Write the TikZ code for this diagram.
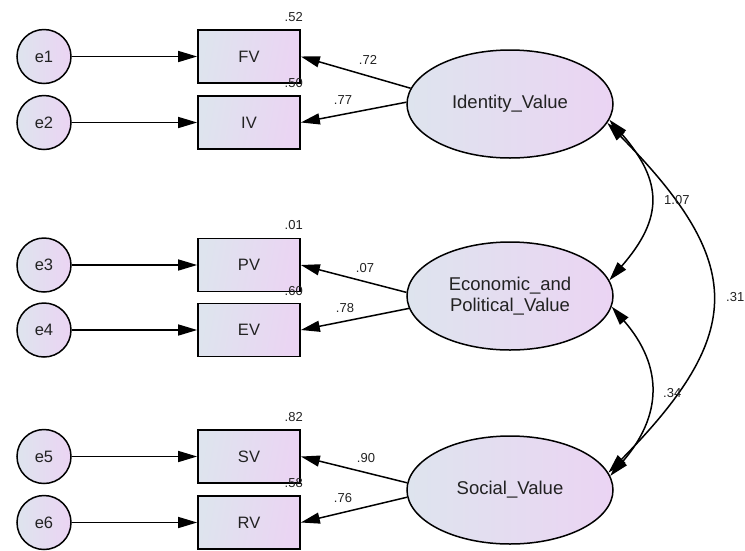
\documentclass[tikz,border=0pt]{standalone}
\usepackage{fontspec}
\setmainfont{Liberation Sans}
\usetikzlibrary{arrows.meta,shapes.geometric}
\definecolor{fillL}{RGB}{222,228,238}
\definecolor{fillR}{RGB}{235,212,243}
\definecolor{ink}{RGB}{34,34,34}
\begin{document}
\begin{tikzpicture}[x=1pt,y=-1pt,
  every node/.style={text=ink},
  obs/.style={draw=black,line width=1.7pt,rectangle,minimum width=102pt,minimum height=53pt,
    left color=fillL,right color=fillR,shading angle=80,font=\fontsize{16.5}{18}\selectfont},
  err/.style={draw=black,line width=1.5pt,circle,minimum size=54pt,inner sep=0pt,
    left color=fillL,right color=fillR,font=\fontsize{16.5}{18}\selectfont},
  lat/.style={draw=black,line width=1.5pt,ellipse,minimum width=206pt,minimum height=108pt,
    left color=fillL,right color=fillR,font=\fontsize{18.5}{21.5}\selectfont,align=center},
  coef/.style={font=\fontsize{13}{15}\selectfont,inner sep=1pt},
  arr/.style={line width=1.5pt,-{Triangle[length=19pt,width=11pt]}},
  cov/.style={line width=1.5pt,{Triangle[length=19pt,width=11pt]}-{Triangle[length=19pt,width=11pt]}}]
\useasboundingbox (0,0) rectangle (745,550);

% latent variables
\node[lat] (Iden) at (510,104) {Identity\_Value};
\node[lat] (Econ) at (510,296) {Economic\_and\\Political\_Value};
\node[lat] (Soc)  at (510,490) {Social\_Value};

% observed indicators
\node[obs] (FV) at (249,56.5)  {FV};
\node[obs] (IV) at (249,122.5) {IV};
\node[obs] (PV) at (249,265)   {PV};
\node[obs] (EV) at (249,330)   {EV};
\node[obs] (SV) at (249,456.5) {SV};
\node[obs] (RV) at (249,522.5) {RV};

% error terms
\node[err] (e1) at (44,56.5)  {e1};
\node[err] (e2) at (44,122.5) {e2};
\node[err] (e3) at (44,265)   {e3};
\node[err] (e4) at (44,330)   {e4};
\node[err] (e5) at (44,456.5) {e5};
\node[err] (e6) at (44,522.5) {e6};

% error paths
\foreach \e/\b in {e1/FV,e2/IV,e3/PV,e4/EV,e5/SV,e6/RV}
  \draw[arr] (\e) -- (\b);

% factor loadings
\draw[arr] (Iden.171) -- (FV.east);
\draw[arr] (Iden.179) -- (IV.east);
\draw[arr] (Econ.178) -- (PV.east);
\draw[arr] (Econ.187) -- (EV.east);
\draw[arr] (Soc.176)  -- (SV.east);
\draw[arr] (Soc.184)  -- (RV.east);

\node[coef] (l1) at (368,60)  {.72};
\node[coef] (l2) at (343,100) {.77};
\node[coef] (l3) at (365,268) {.07};
\node[coef] (l4) at (345,308) {.78};
\node[coef] (l5) at (366,458) {.90};
\node[coef] (l6) at (343,498) {.76};

% squared multiple correlations
\node[coef,anchor=east] (r1) at (304,17)  {.52};
\node[coef,anchor=east] (r2) at (304,83)  {.50};
\node[coef,anchor=east] (r3) at (304,225) {.01};
\node[coef,anchor=east] (r4) at (304,291) {.60};
\node[coef,anchor=east] (r5) at (304,417) {.82};
\node[coef,anchor=east] (r6) at (304,483) {.58};

% covariances between factors
\draw[cov] (Iden.-9) .. controls +(54,62) and +(54,-62) .. (Econ.9);
\draw[cov] (Econ.-6) .. controls +(52,60) and +(52,-60) .. (Soc.8);
\draw[cov] (Iden.-11) .. controls +(138,140) and +(138,-140) .. (Soc.10);

\node[coef,anchor=west] (c1) at (663,200) {1.07};
\node[coef,anchor=west] (c2) at (662,393) {.34};
\node[coef,anchor=west] (c3) at (725,297) {.31};
\end{tikzpicture}
\end{document}
